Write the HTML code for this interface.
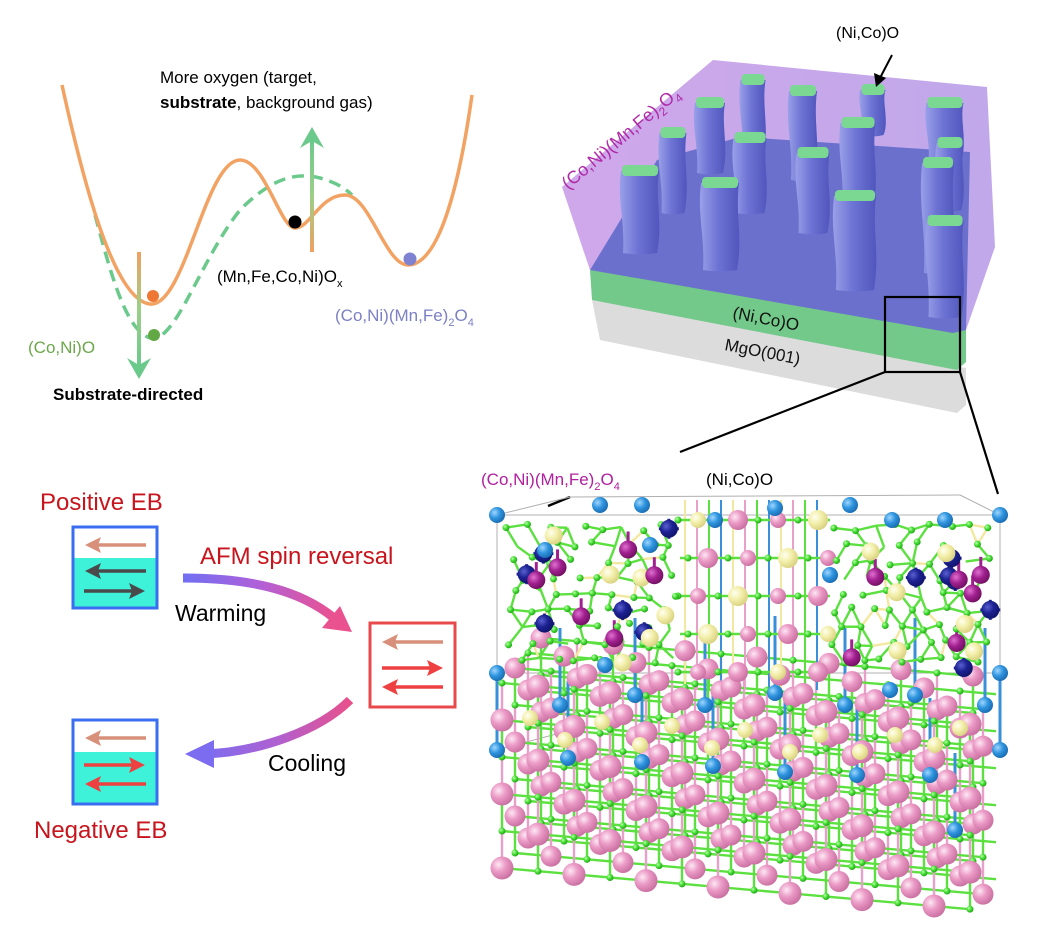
<!DOCTYPE html>
<html><head><meta charset="utf-8">
<style>
html,body{margin:0;padding:0;background:#fff;}
svg{display:block;font-family:"Liberation Sans",Arial,sans-serif;}
</style></head>
<body>
<svg id="s" width="1039" height="944" viewBox="0 0 1039 944" xmlns="http://www.w3.org/2000/svg">
<defs>
 <linearGradient id="gw" x1="0" y1="0" x2="1" y2="0"><stop offset="0" stop-color="#6f6ff2"/><stop offset="0.5" stop-color="#b060d8"/><stop offset="1" stop-color="#ea5290"/></linearGradient>
 <linearGradient id="gc" x1="1" y1="0" x2="0" y2="0"><stop offset="0" stop-color="#e8508c"/><stop offset="0.5" stop-color="#b060d0"/><stop offset="1" stop-color="#7c6cf0"/></linearGradient>
 <linearGradient id="gup" gradientUnits="userSpaceOnUse" x1="0" y1="252" x2="0" y2="140"><stop offset="0" stop-color="#f0a060"/><stop offset="0.5" stop-color="#9ccf88"/><stop offset="1" stop-color="#6cc98c"/></linearGradient>
 <linearGradient id="gdn" gradientUnits="userSpaceOnUse" x1="0" y1="252" x2="0" y2="366"><stop offset="0" stop-color="#f0a060"/><stop offset="0.5" stop-color="#9ccf88"/><stop offset="1" stop-color="#6cc98c"/></linearGradient>
 <linearGradient id="pil" x1="0" y1="0" x2="1" y2="0"><stop offset="0" stop-color="#9aa0e8"/><stop offset="0.45" stop-color="#6e74d4"/><stop offset="1" stop-color="#5056bc"/></linearGradient>
 <linearGradient id="pur" x1="0" y1="0" x2="1" y2="0"><stop offset="0" stop-color="#cfa8ea"/><stop offset="1" stop-color="#c0a8ea"/></linearGradient>
 <radialGradient id="pk" cx="0.35" cy="0.35" r="0.7"><stop offset="0" stop-color="#fde8f4"/><stop offset="0.45" stop-color="#eb9ac6"/><stop offset="1" stop-color="#c86ea0"/></radialGradient>
 <radialGradient id="bl" cx="0.35" cy="0.35" r="0.7"><stop offset="0" stop-color="#9fd6ff"/><stop offset="0.5" stop-color="#2e94de"/><stop offset="1" stop-color="#1a6ab0"/></radialGradient>
 <radialGradient id="nv" cx="0.35" cy="0.35" r="0.7"><stop offset="0" stop-color="#5a60d0"/><stop offset="0.5" stop-color="#1c2192"/><stop offset="1" stop-color="#10146a"/></radialGradient>
 <radialGradient id="mg" cx="0.35" cy="0.35" r="0.7"><stop offset="0" stop-color="#e070d0"/><stop offset="0.5" stop-color="#a0208f"/><stop offset="1" stop-color="#701060"/></radialGradient>
 <radialGradient id="yl" cx="0.35" cy="0.35" r="0.7"><stop offset="0" stop-color="#fffff0"/><stop offset="0.5" stop-color="#f2eea8"/><stop offset="1" stop-color="#d8d080"/></radialGradient>
 <radialGradient id="gr" cx="0.35" cy="0.35" r="0.7"><stop offset="0" stop-color="#b8ffa8"/><stop offset="0.5" stop-color="#44dd33"/><stop offset="1" stop-color="#22a018"/></radialGradient>
</defs>

<!-- ===== Energy landscape ===== -->
<path d="M95,215 C110,270 125,330 150,338 C175,345 200,260 240,210 C265,185 290,170 320,178 C335,182 345,188 352,195" fill="none" stroke="#6cc98c" stroke-width="3.5" stroke-dasharray="12,7"/>
<path d="M62,85 C85,190 115,300 150,304 C185,308 205,160 240,160 C265,160 280,228 295,228 C310,228 320,195 345,195 C370,195 385,265 408,265 C440,265 460,180 472,95" fill="none" stroke="#f2a262" stroke-width="3.5"/>
<line x1="312" y1="252" x2="312" y2="140" stroke="url(#gup)" stroke-width="4"/>
<polygon points="312,127 300,148 312,141 324,148" fill="#6cc98c"/>
<line x1="139" y1="252" x2="139" y2="366" stroke="url(#gdn)" stroke-width="4"/>
<polygon points="139,379 127,358 139,365 151,358" fill="#6cc98c"/>
<circle cx="153" cy="296" r="6" fill="#ee7733"/>
<circle cx="154" cy="335" r="6" fill="#62a844"/>
<circle cx="295" cy="222" r="6.5" fill="#000"/>
<circle cx="410" cy="259" r="6.5" fill="#7e82d0"/>
<text x="160" y="83" font-size="17">More oxygen (target,</text>
<text x="160" y="108" font-size="17"><tspan font-weight="bold">substrate</tspan>, background gas)</text>
<text x="217" y="282" font-size="17">(Mn,Fe,Co,Ni)O<tspan font-size="11" dy="5">x</tspan></text>
<text x="335" y="321" font-size="17" fill="#7c80c4">(Co,Ni)(Mn,Fe)<tspan font-size="11" dy="5">2</tspan><tspan dy="-5">O</tspan><tspan font-size="11" dy="5">4</tspan></text>
<text x="28" y="353" font-size="17" fill="#6aa84a">(Co,Ni)O</text>
<text x="53" y="400" font-size="17" font-weight="bold">Substrate-directed</text>

<!-- ===== Film block ===== -->
<polygon points="600,340 957,413 966,405 966,368 592,300" fill="#dcdcdc"/>
<polygon points="592,300 957,370 966,362 966,326 590,270" fill="#72c98a"/>
<polygon points="562,187 713,60 987,87 995,247 966,330 590,270" fill="url(#pur)"/>
<polygon points="590,270 657,160 740,137 970,152 966,330 953,333" fill="#6b70cc"/>
<g id="pillars"></g>
<rect x="885" y="297" width="75" height="75" fill="none" stroke="#000" stroke-width="2.2"/>
<line x1="885" y1="372" x2="680" y2="452" stroke="#000" stroke-width="2.2"/>
<line x1="570" y1="497" x2="548" y2="506" stroke="#000" stroke-width="2.5"/>
<line x1="960" y1="372" x2="998" y2="494" stroke="#000" stroke-width="2.2"/>
<text x="836" y="38" font-size="16">(Ni,Co)O</text>
<line x1="892" y1="55" x2="880" y2="78" stroke="#000" stroke-width="2"/>
<polygon points="876,87 874,73 886,78" fill="#000"/>
<text transform="translate(568,190) rotate(-40)" font-size="18" fill="#b02aa8">(Co,Ni)(Mn,Fe)<tspan font-size="12" dy="5">2</tspan><tspan dy="-5">O</tspan><tspan font-size="12" dy="5">4</tspan></text>
<text transform="translate(732,318) rotate(11)" font-size="17" fill="#111">(Ni,Co)O</text>
<text transform="translate(724,350) rotate(11)" font-size="17" fill="#111">MgO(001)</text>

<!-- ===== EB diagram ===== -->
<text x="40" y="510" font-size="24" fill="#c8141c">Positive EB</text>
<rect x="73" y="527" width="84" height="81" fill="#fff" stroke="#3a6ef0" stroke-width="3"/>
<rect x="74.5" y="558" width="81" height="48.5" fill="#3ef2da"/>
<g stroke-width="3.5" fill="none">
 <line x1="146" y1="545" x2="98" y2="545" stroke="#d8907a"/><polygon points="85,545 101,537 98,545 101,553" fill="#d8907a" stroke="none"/>
 <line x1="146" y1="571" x2="98" y2="571" stroke="#4a4a4a"/><polygon points="85,571 101,563 98,571 101,579" fill="#4a4a4a" stroke="none"/>
 <line x1="84" y1="591" x2="132" y2="591" stroke="#4a4a4a"/><polygon points="145,591 129,583 132,591 129,599" fill="#4a4a4a" stroke="none"/>
</g>
<text x="200" y="564" font-size="24" fill="#c8141c">AFM spin reversal</text>
<path d="M183,578 C250,578 300,590 334,618" fill="none" stroke="url(#gw)" stroke-width="9"/>
<polygon points="352,632 322,628 340,606" fill="#e9528e"/>
<text x="175" y="621" font-size="23">Warming</text>
<rect x="370" y="623" width="85" height="84" fill="#fff" stroke="#e84a4c" stroke-width="3"/>
<g stroke-width="3.5" fill="none">
 <line x1="443" y1="642" x2="395" y2="642" stroke="#d8907a"/><polygon points="382,642 398,634 395,642 398,650" fill="#d8907a" stroke="none"/>
 <line x1="382" y1="668" x2="430" y2="668" stroke="#ee4040"/><polygon points="443,668 427,660 430,668 427,676" fill="#ee4040" stroke="none"/>
 <line x1="443" y1="687" x2="395" y2="687" stroke="#ee4040"/><polygon points="382,687 398,679 395,687 398,695" fill="#ee4040" stroke="none"/>
</g>
<path d="M350,700 C320,730 260,752 205,754" fill="none" stroke="url(#gc)" stroke-width="9"/>
<polygon points="185,754 214,740 214,768" fill="#7c6cf0"/>
<text x="268" y="771" font-size="23">Cooling</text>
<rect x="73" y="720" width="84" height="84" fill="#fff" stroke="#3a6ef0" stroke-width="3"/>
<rect x="74.5" y="752" width="81" height="50.5" fill="#3ef2da"/>
<g stroke-width="3.5" fill="none">
 <line x1="146" y1="738" x2="98" y2="738" stroke="#d8907a"/><polygon points="85,738 101,730 98,738 101,746" fill="#d8907a" stroke="none"/>
 <line x1="84" y1="765" x2="132" y2="765" stroke="#ee4040"/><polygon points="145,765 129,757 132,765 129,773" fill="#ee4040" stroke="none"/>
 <line x1="146" y1="784" x2="98" y2="784" stroke="#ee4040"/><polygon points="85,784 101,776 98,784 101,792" fill="#ee4040" stroke="none"/>
</g>
<text x="34" y="838" font-size="24" fill="#c8141c">Negative EB</text>

<!-- ===== Lattice ===== -->
<g id="lat"></g>
<text x="481" y="485" font-size="17" fill="#b0209f">(Co,Ni)(Mn,Fe)<tspan font-size="11" dy="5">2</tspan><tspan dy="-5">O</tspan><tspan font-size="11" dy="5">4</tspan></text>
<text x="706" y="485" font-size="17">(Ni,Co)O</text>
</svg>
<script>
var NS="http://www.w3.org/2000/svg";
function el(p,t,a){var e=document.createElementNS(NS,t);for(var k in a)e.setAttribute(k,a[k]);p.appendChild(e);return e;}
var pg=document.getElementById("pillars");
var P=[[753,77,157,25],[803,88,180,28],[873,87,135,25],[945,100,160,37],[710,100,173,30],[858,120,207,35],[673,130,213,27],[750,135,213,33],[950,140,210,27],[813,150,233,33],[938,160,273,32],[640,168,253,38],[720,180,270,38],[855,193,290,42],[945,218,317,37]];
P.forEach(function(p){var x=p[0],y=p[1],b=p[2],w=p[3],m=(y+b)/2;
 el(pg,"path",{d:"M"+(x-w/2)+","+(y+3)+" C"+(x-w/2-4)+","+(m-10)+" "+(x-w/2+4)+","+(m+10)+" "+(x-w/2+2)+","+b+" Q"+x+","+(b+3)+" "+(x+w/2-2)+","+b+" C"+(x+w/2+4)+","+(m+10)+" "+(x+w/2-4)+","+(m-10)+" "+(x+w/2)+","+(y+3)+" Z",fill:"url(#pil)"});
 el(pg,"rect",{x:x-w/2+1,y:y-3,width:w-2,height:11,rx:4,fill:"#7ad892"});
});
var g=document.getElementById("lat");
var seed=11;function R(){seed=(seed*16807)%2147483647;return seed/2147483647;}
var bonds=el(g,"g",{}),atoms=el(g,"g",{});
function B(x1,y1,x2,y2,c,w){el(bonds,"line",{x1:x1,y1:y1,x2:x2,y2:y2,stroke:c,"stroke-width":w||2.2});}
function A(x,y,r,f){el(atoms,"circle",{cx:x,cy:y,r:r,fill:f});}
[[497,515,1000,515],[497,515,497,750],[1000,515,1000,750],[497,673,1000,673],[497,515,570,497],[1000,515,960,495],[570,497,960,495],[497,750,560,733]].forEach(function(l){B(l[0],l[1],l[2],l[3],"#b0b0b0",1);});
for(var k=3;k>=0;k--){
 var dx=k*13,dy=-k*15;
 for(var j=0;j<6;j++){
  for(var i=0;i<14;i++){
   var x=502+i*36+dx, y=868+i*36*0.088-j*37+dy;
   if(x>1000-dx*0.2)continue;
   var nx=x+36, ny=y+36*0.088;
   if(i<13 && nx<=1000) B(x,y,nx,ny,"#5ce040",2.4);
   if(j<5) B(x,y,x,y-37,((i+j+k)%2?"#5ce040":"#e8a0c8"),2.4);
   if((i+j+k)%2==0) A(x,y,k==0?11.5:10.5,"url(#pk)"); else A(x,y,3.5,"url(#gr)");
  }
 }
}
var yl=[[530,718],[602,722],[672,726],[745,730],[820,735],[895,735],[960,728],[565,740],[640,745],[712,748],[790,752],[860,752],[935,745]];
yl.forEach(function(p){A(p[0],p[1],8,"url(#yl)");});
var bm=[[497,750],[568,758],[642,762],[713,766],[785,772],[857,775],[930,775],[1000,750],[560,705],[635,695],[705,705],[775,693],[845,705],[915,695],[985,705],[955,830]];
bm.forEach(function(p){B(p[0],p[1],p[0],p[1]-77,"#3a90d8",3);});
bm.forEach(function(p){A(p[0],p[1],8,"url(#bl)");});
for(var i=0;i<12;i++){var x=685+i*12;B(x,500,x,690,["#f2e8a0","#e8a0c8","#5ce040","#3a90d8"][i%4],2);}
for(var j=0;j<5;j++){var y=520+j*38;B(680,y,830,y,"#5ce040",2.4);for(var i=0;i<4;i++){var x=698+i*40+(j%2)*10;A(x-20,y,3.5,"url(#gr)");A(x,y,(i+j)%2?10:8,(i+j)%3==0?"url(#yl)":"url(#pk)");}}
function cluster(x0,x1,y0,y1){
 var pts=[],sp=19;
 for(var y=y0;y<=y1;y+=sp*0.87){for(var x=x0+((Math.round((y-y0)/sp))%2)*sp/2;x<=x1;x+=sp){pts.push([x+(R()-0.5)*8,y+(R()-0.5)*8]);}}
 for(var a=0;a<pts.length;a++)for(var b=a+1;b<pts.length;b++){var d=Math.hypot(pts[a][0]-pts[b][0],pts[a][1]-pts[b][1]);if(d<24&&R()<0.6)B(pts[a][0],pts[a][1],pts[b][0],pts[b][1],R()<0.15?"#f2e8a0":"#5ce040",2.4);}
 pts.forEach(function(p){if(R()<0.8)A(p[0],p[1],3.5,"url(#gr)");});
 var cols=["url(#nv)","url(#mg)","url(#yl)","url(#nv)","url(#mg)","url(#yl)"];
 for(var n=0;n<18;n++){var x=x0+R()*(x1-x0),y=y0+R()*(y1-y0);var c=cols[n%6];if(c=="url(#nv)"){B(x-10,y,x+10,y,"#1c2192",3);B(x,y-10,x,y+10,"#1c2192",3);}if(c=="url(#mg)")B(x,y,x,y-18,"#a0208f",3);A(x,y,9,c);}
}
cluster(510,680,528,665);cluster(835,995,528,670);
[[497,515],[600,505],[642,505],[715,520],[775,508],[850,505],[892,520],[945,520],[1000,515],[545,550],[650,545],[1000,673],[497,673],[605,665],[830,575],[890,690]].forEach(function(p){A(p[0],p[1],8,"url(#bl)");});
</script>
</body></html>
